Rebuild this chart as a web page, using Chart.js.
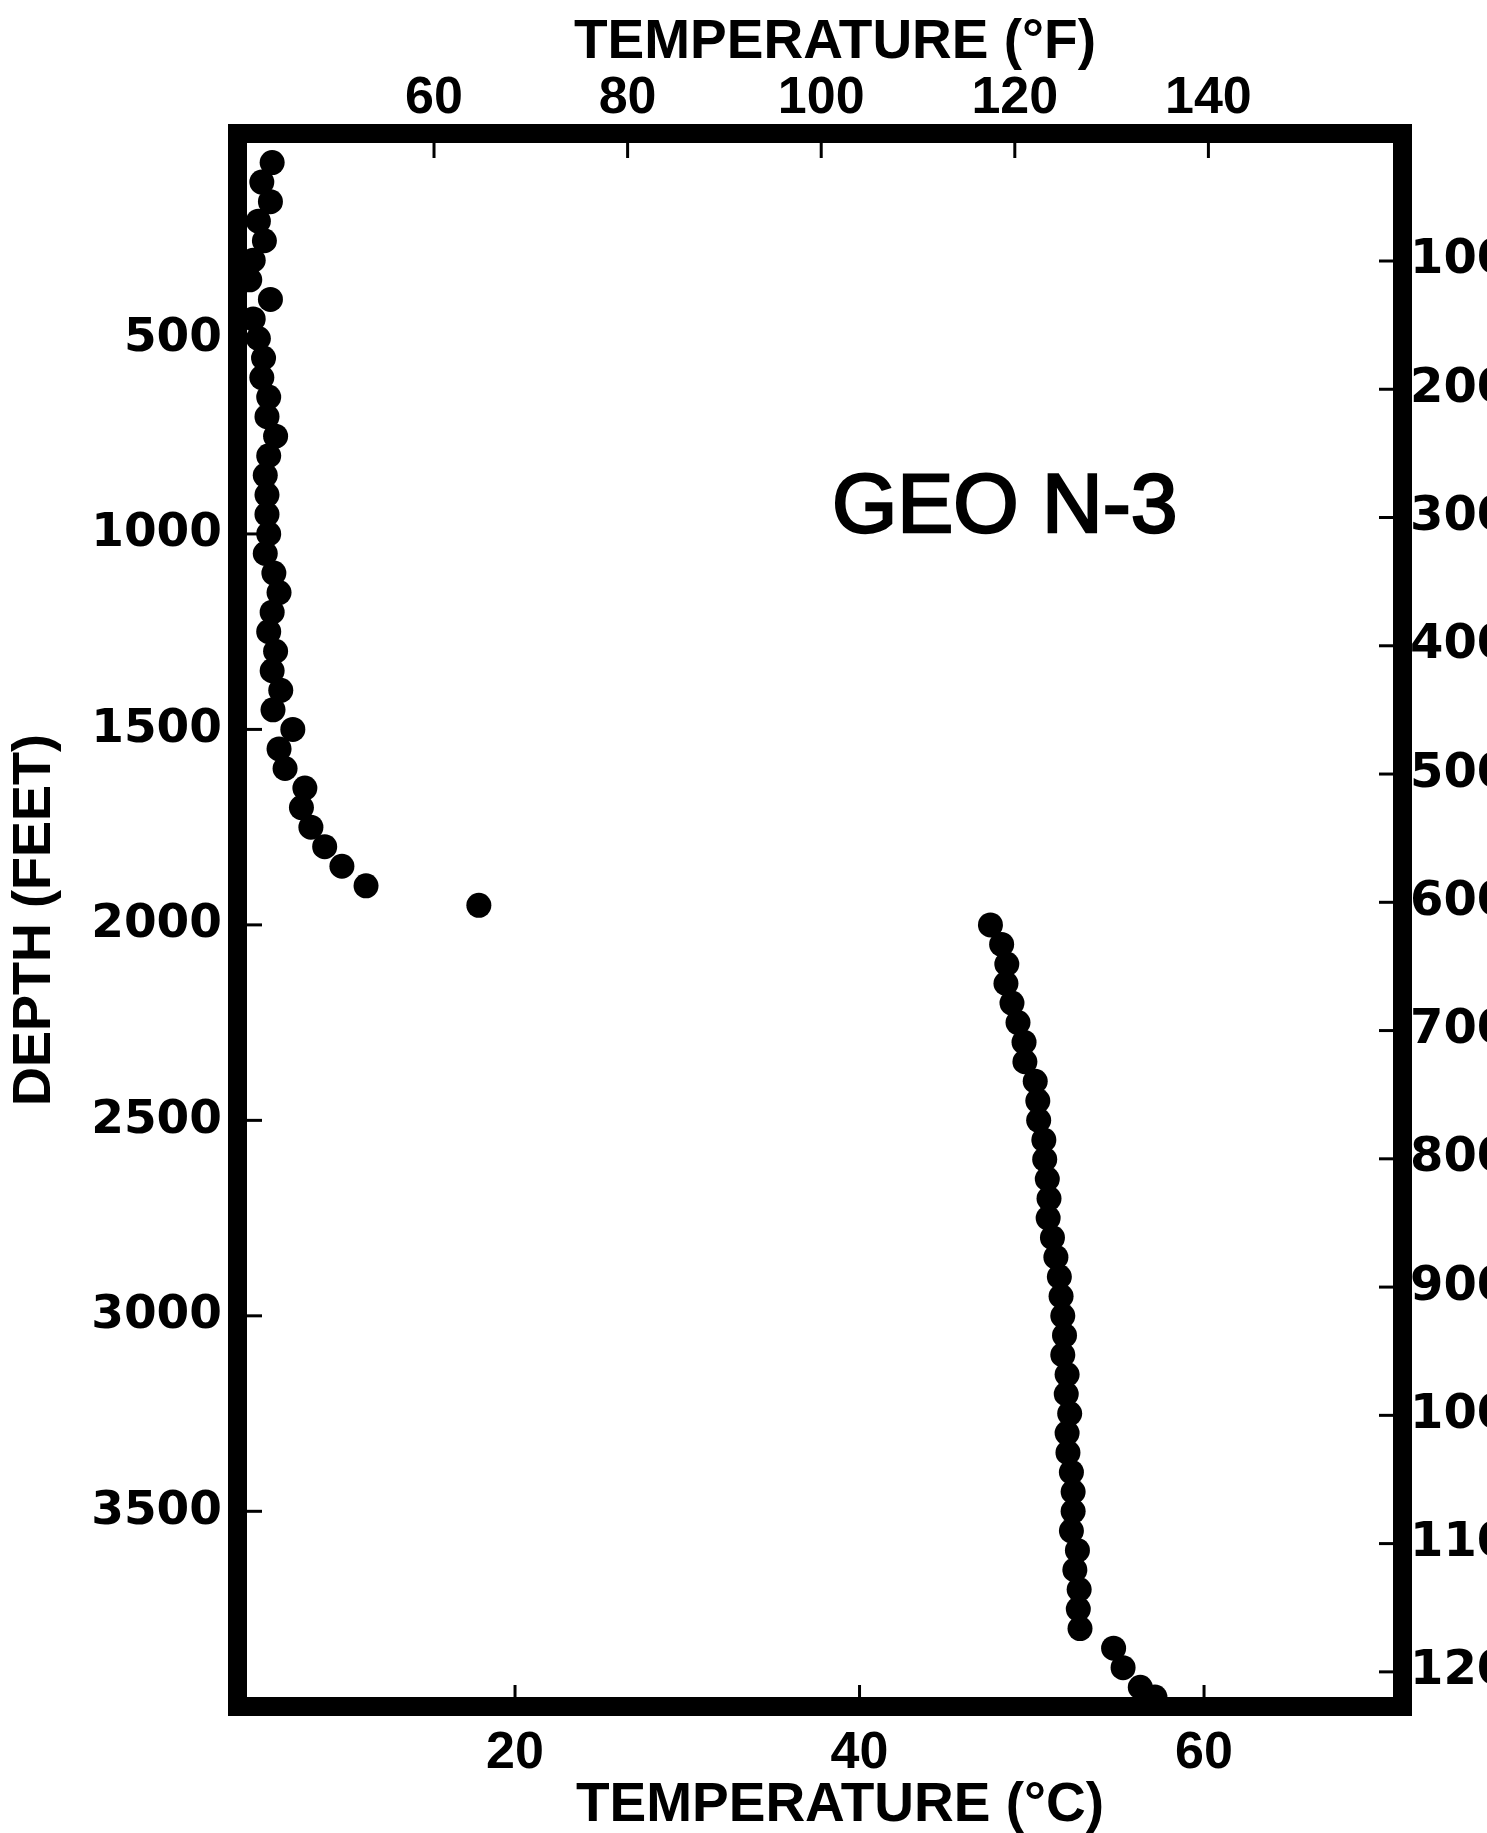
<!DOCTYPE html>
<html><head><meta charset="utf-8">
<style>html,body{margin:0;padding:0;background:#fff;overflow:hidden}canvas{display:block}</style>
<script src="https://cdn.jsdelivr.net/npm/chart.js"></script>
</head><body>
<canvas id="c" width="1487" height="1833"></canvas>
<script>
// ---- data ----
const depthFt = [
  50,100,150,200,250,300,350,400,450,500,550,600,650,700,750,800,850,900,950,1000,
  1050,1100,1150,1200,1250,1300,1350,1400,1450,1500,1550,1600,1650,1700,1750,1800,1850,1900,1950,
  2000,2050,2100,2150,2200,2250,2300,2350,2400,2450,2500,2550,2600,2650,2700,2750,2800,2850,2900,2950,3000,
  3050,3100,3150,3200,3250,3300,3350,3400,3450,3500,3550,3600,3650,3700,3750,3800,3850,3900,3950,3975
];
const tempC = [
  5.9,5.3,5.8,5.1,5.45,4.8,4.6,5.8,4.8,5.1,5.4,5.3,5.7,5.6,6.1,5.7,5.5,5.6,5.6,5.7,
  5.5,6.0,6.3,5.9,5.7,6.1,5.9,6.4,5.95,7.1,6.3,6.65,7.8,7.6,8.15,8.95,9.95,11.35,17.9,
  47.6,48.25,48.55,48.5,48.85,49.2,49.55,49.6,50.2,50.35,50.4,50.7,50.75,50.9,51.0,50.95,51.2,51.4,51.6,51.7,51.8,
  51.9,51.8,52.05,52.0,52.2,52.05,52.1,52.3,52.4,52.4,52.3,52.65,52.5,52.75,52.7,52.8,54.75,55.3,56.3,57.15
];
const depthTicks = [500,1000,1500,2000,2500,3000,3500];
const meterTicks = [100,200,300,400,500,600,700,800,900,1000,1100,1200];
const celsiusTicks = [20,40,60];
const fahrenheitTicks = [60,80,100,120,140];
const wellLabel = 'GEO N-3';
const wellLabelAt = {tempC: 38.4, depthFt: 996};
const topTitle = 'TEMPERATURE (°F)';
const bottomTitle = 'TEMPERATURE (°C)';
const leftTitle = 'DEPTH (FEET)';

// ---- styling ----
const narrow = "'Liberation Sans', Arial, sans-serif";
const wide = "'DejaVu Sans', Verdana, sans-serif";
const titleFont = {family: narrow, weight: 'bold', size: 54};

function setTicks(list){ return s => { s.ticks = list.map(v => ({value: v})); }; }
function fixSize(prop, px){ return s => { s[prop] = px; }; }
const noGrid = {display: false, drawTicks: false};
const noBorder = {display: false};

const framePlugin = {
  id: 'frame',
  afterDraw(chart){
    const {ctx, chartArea: a, scales} = chart;
    ctx.save();
    ctx.strokeStyle = '#000';
    ctx.fillStyle = '#000';
    ctx.lineWidth = 3;
    const seg = (x1,y1,x2,y2) => { ctx.beginPath(); ctx.moveTo(x1,y1); ctx.lineTo(x2,y2); ctx.stroke(); };
    scales.y.ticks.forEach(t => { const p = scales.y.getPixelForValue(t.value); seg(a.left, p, a.left + 15, p); });
    scales.y2.ticks.forEach(t => { const p = scales.y2.getPixelForValue(t.value); seg(a.right, p, a.right - 14, p); });
    scales.x.ticks.forEach(t => { const p = scales.x.getPixelForValue(t.value); seg(p, a.bottom, p, a.bottom - 12); });
    scales.x2.ticks.forEach(t => { const p = scales.x2.getPixelForValue(t.value); seg(p, a.top, p, a.top + 15); });
    ctx.lineWidth = 19;
    ctx.strokeRect(a.left - 9.5, a.top - 9.5, a.right - a.left + 19, a.bottom - a.top + 19);
    // horizontal axis titles (slightly right of centre, as in the original)
    const cx = (a.left + a.right) / 2;
    ctx.font = "bold 55px " + narrow;
    ctx.textAlign = 'center';
    ctx.textBaseline = 'alphabetic';
    ctx.fillText(topTitle, cx + 15, 58);
    ctx.fillText(bottomTitle, cx + 20, chart.height - 12);
    // well label
    ctx.font = "84px " + narrow;
    ctx.textAlign = 'left';
    ctx.lineWidth = 2.5;
    const lx = scales.x.getPixelForValue(wellLabelAt.tempC);
    const ly = scales.y.getPixelForValue(wellLabelAt.depthFt);
    ctx.fillText(wellLabel, lx, ly);
    ctx.strokeText(wellLabel, lx, ly);
    ctx.restore();
  }
};

new Chart(document.getElementById('c'), {
  type: 'scatter',
  data: {
    datasets: [{
      label: 'GEO N-3',
      data: depthFt.map((d, i) => ({x: tempC[i], y: d})),
      xAxisID: 'x', yAxisID: 'y',
      pointRadius: 12.5, pointHoverRadius: 12.5,
      pointBackgroundColor: '#000', pointBorderWidth: 0, borderColor: '#000',
      showLine: false, clip: false
    }]
  },
  options: {
    responsive: false, animation: false, events: [],
    layout: {padding: 0},
    plugins: {legend: {display: false}, tooltip: {enabled: false}},
    scales: {
      x: {
        type: 'linear', position: 'bottom', min: 4.44, max: 70.97,
        grid: noGrid, border: noBorder,
        afterBuildTicks: setTicks(celsiusTicks), afterFit: fixSize('height', 136),
        ticks: {color: '#000', font: {family: narrow, weight: 'bold', size: 52}, padding: 25, maxRotation: 0, autoSkip: false, callback: v => String(v)},
        title: {display: false, text: bottomTitle}
      },
      x2: {
        type: 'linear', position: 'top', min: 40.68, max: 159.07,
        grid: noGrid, border: noBorder,
        afterBuildTicks: setTicks(fahrenheitTicks), afterFit: fixSize('height', 143),
        ticks: {color: '#000', font: {family: narrow, weight: 'bold', size: 52}, padding: 13, maxRotation: 0, autoSkip: false, callback: v => String(v)},
        title: {display: false, text: topTitle}
      },
      y: {
        type: 'linear', position: 'left', reverse: true, min: 0, max: 3975,
        grid: noGrid, border: noBorder,
        afterBuildTicks: setTicks(depthTicks), afterFit: fixSize('width', 247),
        ticks: {color: '#000', font: {family: wide, weight: 'bold', size: 47}, padding: 25, autoSkip: false, callback: v => String(v)},
        title: {display: true, text: leftTitle, color: '#000', font: titleFont, padding: {top: 3, bottom: 0}}
      },
      y2: {
        type: 'linear', position: 'right', reverse: true, min: 8, max: 1219.6,
        grid: noGrid, border: noBorder,
        afterBuildTicks: setTicks(meterTicks), afterFit: fixSize('width', 94),
        ticks: {color: '#000', font: {family: wide, weight: 'bold', size: 48}, padding: 17, autoSkip: false, callback: v => String(v)}
      }
    }
  },
  plugins: [framePlugin]
});
</script>
</body></html>
